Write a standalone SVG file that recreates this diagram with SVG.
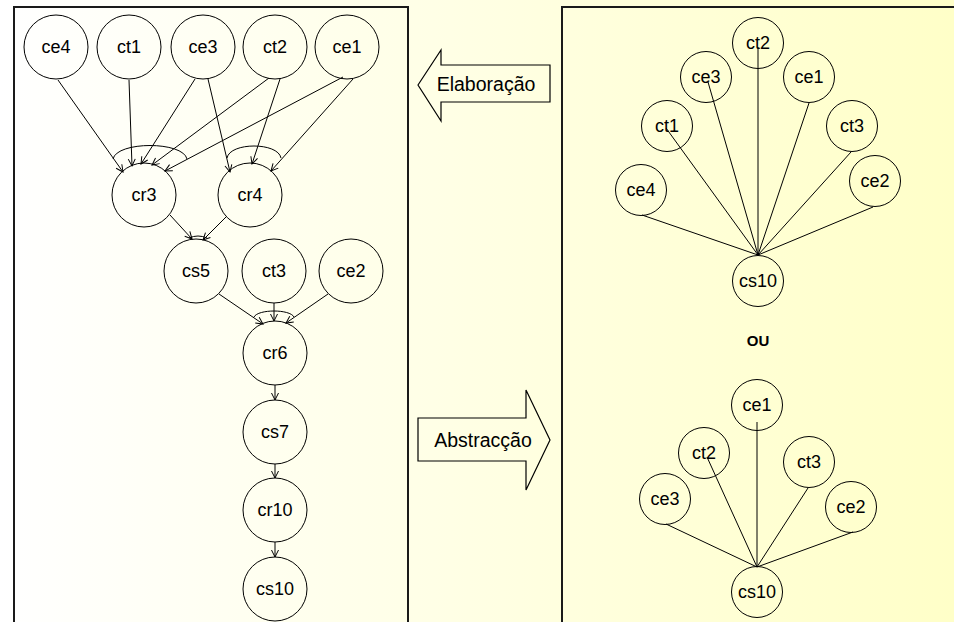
<svg xmlns="http://www.w3.org/2000/svg" width="954" height="622" viewBox="0 0 954 622">
<defs>
<linearGradient id="bg" gradientUnits="userSpaceOnUse" x1="0" y1="0" x2="954" y2="0">
<stop offset="0" stop-color="#FFFFFF"/>
<stop offset="1" stop-color="#FFFFC8"/>
</linearGradient>
<marker id="arr" markerUnits="userSpaceOnUse" markerWidth="10" markerHeight="10" refX="8" refY="4" orient="auto" viewBox="0 0 10 8">
<path d="M1,0.5 L8,4 L1,7.5" fill="none" stroke="#000" stroke-width="1"/>
</marker>
</defs>
<style>
.n circle{fill:none;stroke:#000;stroke-width:1}
.n text{font-family:"Liberation Sans",Arial,sans-serif;font-size:18px;fill:#000;text-anchor:middle;dominant-baseline:central}
.e line,.e path{stroke:#000;stroke-width:1;fill:none}
.a line{marker-end:url(#arr)}
.box{fill:none;stroke:#1a1a1a;stroke-width:2}
.blk{fill:url(#bg);stroke:#000;stroke-width:1.2}
.lbl{font-family:"Liberation Sans",Arial,sans-serif;font-size:19.5px;fill:#000;text-anchor:middle;dominant-baseline:central}
</style>
<rect x="0" y="0" width="954" height="622" fill="url(#bg)"/>
<rect class="box" x="14" y="7" width="394" height="625"/>
<rect class="box" x="562" y="7" width="400" height="625"/>

<g id="arrow-elaboracao">
<path class="blk" d="M418,85 L441,50 L441,65 L550,65 L550,102 L441,102 L441,121 Z"/>
<text class="lbl" x="486" y="84">Elaboração</text>
</g>
<g id="arrow-abstraccao">
<path class="blk" d="M418,418 L526,418 L526,390 L550,440 L526,490 L526,461 L418,461 Z"/>
<text class="lbl" x="483" y="440">Abstracção</text>
</g>

<g id="connectors-left" class="e a">
<line x1="58" y1="80" x2="123" y2="172"/>
<line x1="129" y1="80" x2="132" y2="166"/>
<line x1="195" y1="79" x2="141" y2="164"/>
<line x1="269" y1="78" x2="152" y2="165"/>
<line x1="343" y1="77" x2="165" y2="171"/>
<line x1="208" y1="79" x2="230" y2="172"/>
<line x1="280" y1="79" x2="252" y2="164"/>
<line x1="353" y1="79" x2="271" y2="171"/>
<line x1="170" y1="215" x2="192" y2="239"/>
<line x1="226" y1="217" x2="203" y2="240"/>
<line x1="219" y1="294" x2="263" y2="324"/>
<line x1="274" y1="303" x2="274" y2="321"/>
<line x1="328" y1="294" x2="286" y2="323"/>
<line x1="275" y1="385" x2="275" y2="400"/>
<line x1="275" y1="464" x2="275" y2="478"/>
<line x1="275" y1="542" x2="275" y2="557"/>
<path d="M113,159 C117,141 183,141 187,159"/>
<path d="M227,158 C230,142 278,142 281,158"/>
<path d="M189,238 Q198,234 207,238"/>
<path d="M254,317 C258,309 290,309 294,317"/>
</g>

<g id="connectors-right" class="e">
<line x1="758" y1="47" x2="758" y2="255"/>
<line x1="708" y1="82" x2="758" y2="255"/>
<line x1="666" y1="128" x2="758" y2="255"/>
<line x1="642" y1="215" x2="758" y2="255"/>
<line x1="809" y1="103" x2="758" y2="255"/>
<line x1="851" y1="152" x2="758" y2="255"/>
<line x1="873" y1="207" x2="758" y2="255"/>
<line x1="757" y1="422" x2="757" y2="567"/>
<line x1="707" y1="457" x2="757" y2="567"/>
<line x1="666" y1="524" x2="757" y2="567"/>
<line x1="808" y1="488" x2="757" y2="567"/>
<line x1="853" y1="532" x2="757" y2="567"/>
</g>

<g id="L-ce4" class="n"><circle cx="56" cy="47" r="32"/><text x="56" y="47">ce4</text></g>
<g id="L-ct1" class="n"><circle cx="129" cy="47" r="32"/><text x="129" y="47">ct1</text></g>
<g id="L-ce3" class="n"><circle cx="203" cy="47" r="32"/><text x="203" y="47">ce3</text></g>
<g id="L-ct2" class="n"><circle cx="275" cy="47" r="32"/><text x="275" y="47">ct2</text></g>
<g id="L-ce1" class="n"><circle cx="347" cy="47" r="32"/><text x="347" y="47">ce1</text></g>
<g id="L-cr3" class="n"><circle cx="144" cy="195" r="32"/><text x="144" y="195">cr3</text></g>
<g id="L-cr4" class="n"><circle cx="250" cy="195" r="32"/><text x="250" y="195">cr4</text></g>
<g id="L-cs5" class="n"><circle cx="196" cy="271" r="32"/><text x="196" y="271">cs5</text></g>
<g id="L-ct3" class="n"><circle cx="274" cy="271" r="32"/><text x="274" y="271">ct3</text></g>
<g id="L-ce2" class="n"><circle cx="351" cy="271" r="32"/><text x="351" y="271">ce2</text></g>
<g id="L-cr6" class="n"><circle cx="275" cy="353" r="32"/><text x="275" y="353">cr6</text></g>
<g id="L-cs7" class="n"><circle cx="275" cy="432" r="32"/><text x="275" y="432">cs7</text></g>
<g id="L-cr10" class="n"><circle cx="275" cy="510" r="32"/><text x="275" y="510">cr10</text></g>
<g id="L-cs10" class="n"><circle cx="275" cy="589" r="32"/><text x="275" y="589">cs10</text></g>

<g id="R1-ct2" class="n"><circle cx="758" cy="43" r="25.5"/><text x="758" y="43">ct2</text></g>
<g id="R1-ce3" class="n"><circle cx="706" cy="77" r="25.5"/><text x="706" y="77">ce3</text></g>
<g id="R1-ce1" class="n"><circle cx="809" cy="77" r="25.5"/><text x="809" y="77">ce1</text></g>
<g id="R1-ct1" class="n"><circle cx="667" cy="126" r="25.5"/><text x="667" y="126">ct1</text></g>
<g id="R1-ct3" class="n"><circle cx="852" cy="126" r="25.5"/><text x="852" y="126">ct3</text></g>
<g id="R1-ce4" class="n"><circle cx="641" cy="190" r="25.5"/><text x="641" y="190">ce4</text></g>
<g id="R1-ce2" class="n"><circle cx="875" cy="181" r="25.5"/><text x="875" y="181">ce2</text></g>
<g id="R1-cs10" class="n"><circle cx="758" cy="281" r="25.5"/><text x="758" y="281">cs10</text></g>

<text x="758" y="340" font-family="Liberation Sans, Arial, sans-serif" font-size="15" font-weight="bold" text-anchor="middle" dominant-baseline="central">OU</text>

<g id="R2-ce1" class="n"><circle cx="757" cy="405" r="25.5"/><text x="757" y="405">ce1</text></g>
<g id="R2-ct2" class="n"><circle cx="704" cy="453" r="25.5"/><text x="704" y="453">ct2</text></g>
<g id="R2-ct3" class="n"><circle cx="809" cy="462" r="25.5"/><text x="809" y="462">ct3</text></g>
<g id="R2-ce3" class="n"><circle cx="665" cy="499" r="25.5"/><text x="665" y="499">ce3</text></g>
<g id="R2-ce2" class="n"><circle cx="851" cy="507" r="25.5"/><text x="851" y="507">ce2</text></g>
<g id="R2-cs10" class="n"><circle cx="757" cy="592" r="25.5"/><text x="757" y="592">cs10</text></g>
</svg>
